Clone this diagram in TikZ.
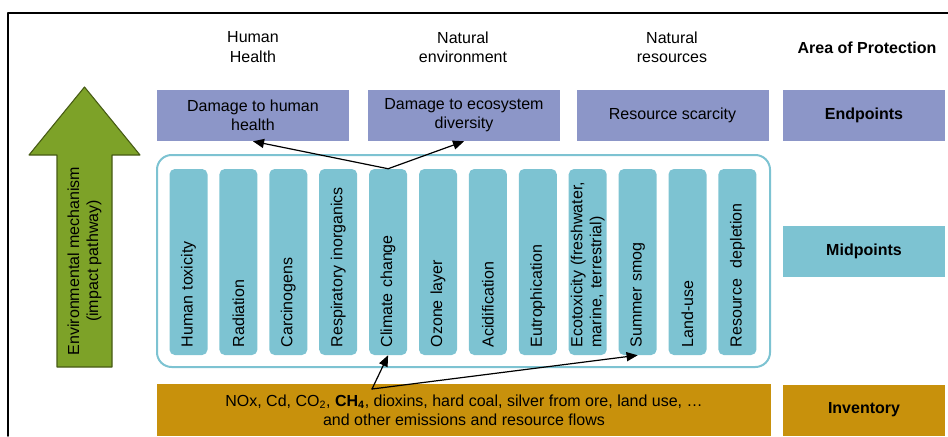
\documentclass[tikz,border=0pt]{standalone}
\usepackage{fontspec}
\setmainfont{Liberation Sans}
\usepackage{pgf,tikz}
\usetikzlibrary{arrows}
\definecolor{endblue}{RGB}{140,150,200}
\definecolor{midteal}{RGB}{125,195,210}
\definecolor{invgold}{RGB}{200,145,12}
\definecolor{mechgreen}{RGB}{125,162,40}
\definecolor{mechdark}{RGB}{70,90,20}

\begin{document}
\begin{tikzpicture}[line cap=round,line join=round,>=triangle 45,x=0.75pt,y=-0.75pt,
  every node/.style={font=\fontsize{12}{14.4}\selectfont},
  endbox/.style={fill=endblue,minimum width=144pt,minimum height=38.25pt,align=center,inner sep=0pt},
  sidebox/.style={minimum width=121.5pt,minimum height=38.25pt,inner sep=0pt,font=\fontsize{12}{14.4}\selectfont\bfseries},
  midbar/.style={fill=midteal,rounded corners=4pt,rotate=90,minimum width=139.5pt,minimum height=28.5pt,text width=128pt,align=left,inner sep=0pt},
  flow/.style={->,line width=0.9pt}]
\useasboundingbox (0,0) rectangle (948,436);
% frame
\draw[line width=1.2pt] (8,436) -- (8,13) -- (948,13);
%
% area of protection
\node[align=center] (lhh) at (253,47) {Human\\Health};
\node[align=center] (lne) at (463,47) {Natural\\environment};
\node[align=center] (lnr) at (672,47) {Natural\\resources};
\node[font=\fontsize{12}{14.4}\selectfont\bfseries] (lap) at (867,48) {Area of Protection};
%
% endpoints
\node[endbox] (hh) at (253,115.5) {Damage to human\\health};
\node[endbox] (eco) at (464,115.5) {Damage to ecosystem\\diversity};
\node[endbox] (res) at (672.5,115.5) {Resource scarcity};
\node[sidebox,fill=endblue] (endp) at (864,115.5) {Endpoints};
%
% midpoints
\node[draw=midteal,line width=1.5pt,rounded corners=11pt,minimum width=459.75pt,minimum height=159pt] (mids) at (463.5,261) {};
\foreach \lbl [count=\i] in {Human toxicity,Radiation,Carcinogens,Respiratory inorganics,Climate change,Ozone layer,Acidification,Eutrophication,{Ecotoxicity (freshwater,\\marine, terrestrial)},Summer smog,Land-use,Resource\ \ depletion}
  \node[midbar] (m\i) at ({188.5+49.9*(\i-1)},262) {\lbl};
\node[sidebox,fill=midteal] (midp) at (864,251.5) {Midpoints};
%
% inventory
\node[fill=invgold,minimum width=460.5pt,minimum height=39pt,align=center,inner sep=0pt] (inv) at (464,410)
  {NOx, Cd, CO\textsubscript{2}, \textbf{CH\textsubscript{4}}, dioxins, hard coal, silver from ore, land use, \ldots\\and other emissions and resource flows};
\node[sidebox,fill=invgold] (invl) at (864,410) {Inventory};
%
% environmental mechanism
\draw[fill=mechgreen,draw=mechdark,line width=0.8pt] (57,367) -- (57,155) -- (29,155) -- (84.5,87) -- (140,155) -- (112,155) -- (112,367) -- cycle;
\node[rotate=90,align=center] (mech) at (84.5,261) {Environmental mechanism\\(impact pathway)};
%
% links
\draw[flow] (m5.east) -- (hh.south);
\draw[flow] (m5.east) -- (eco.south);
\coordinate (ch4) at (372,389);
\draw[flow] (ch4) -- (m5.west);
\draw[flow] (ch4) -- (m10.west);
\end{tikzpicture}
\end{document}
